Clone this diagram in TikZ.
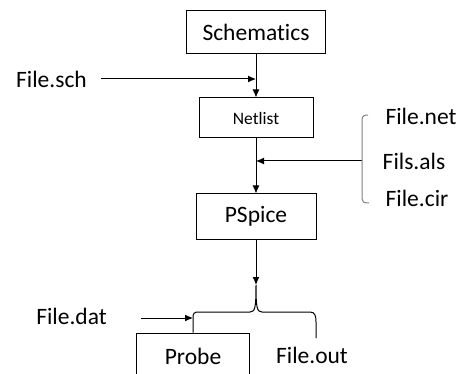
\documentclass[tikz,border=0pt]{standalone}
\usepackage{fontspec}
\setmainfont{Carlito}[Ligatures=NoCommon]
\usetikzlibrary{arrows.meta}
\tikzset{farr/.style={draw=black,line width=1pt,-{Latex[length=8pt,width=7pt]}},
  brc/.style={draw=#1,line width=1pt}
}

\begin{document}
\begin{tikzpicture}[x=1pt,y=-1pt]
  \useasboundingbox (0,0) rectangle (463,374);
  \begin{scope}[every node/.style={draw=black,line width=1pt,inner sep=0,font=\fontsize{23.5}{28}\selectfont}]
    \node[minimum width=139pt,minimum height=43pt] (schem) at (256,32.5) {Schematics};
    \node[minimum width=114pt,minimum height=40pt,font=\fontsize{17.5}{21}\selectfont] (netlist) at (256,118) {Netlist};
    \node[minimum width=120pt,minimum height=45pt] (pspice) at (256,216.5) {PSpice};
    \node[minimum width=113pt,minimum height=46pt] (probe) at (193,356) {Probe};
  \end{scope}
  \begin{scope}[every node/.style={inner sep=0,font=\fontsize{23.5}{28}\selectfont}]
    \node (fsch) at (51.5,79) {File.sch};
    \node (fnet) at (421,116) {File.net};
    \node (fals) at (414,161) {Fils.als};
    \node (fcir) at (417,198) {File.cir};
    \node (fdat) at (71.5,316) {File.dat};
    \node (fout) at (312,355) {File.out};
  \end{scope}
  \coordinate (schin) at (256,79);
  \coordinate (schst) at (101,79);
  \coordinate (brmid) at (362,161);
  \coordinate (netin) at (256,161);
  \coordinate (tip) at (256,285);
  \coordinate (datst) at (141,318);
  \coordinate (datin) at (193,318);
  % main flow
  \path (schem) edge[farr] (netlist);
  \path (netlist) edge[farr] (pspice);
  \path (pspice) edge[farr] (tip);
  \path (schst) edge[farr] (schin);
  \path (brmid) edge[farr] (netin);
  \path (datst) edge[farr] (datin);
  % brackets
  \draw[brc=gray] (368,115) .. controls (364,115) and (362,116) .. (362,120) -- (362,199)
    .. controls (362,202) and (364,203) .. (369,203);
  \draw[brc=black] (probe.north) -- (193,318) .. controls (193,313) and (194,312) .. (199,312)
    -- (250,312) .. controls (255,312) and (256,308) .. (tip)
    .. controls (256,308) and (257,312) .. (262,312) -- (310,312)
    .. controls (315,312) and (316,316) .. (316,322) -- (316,338);
\end{tikzpicture}
\end{document}
